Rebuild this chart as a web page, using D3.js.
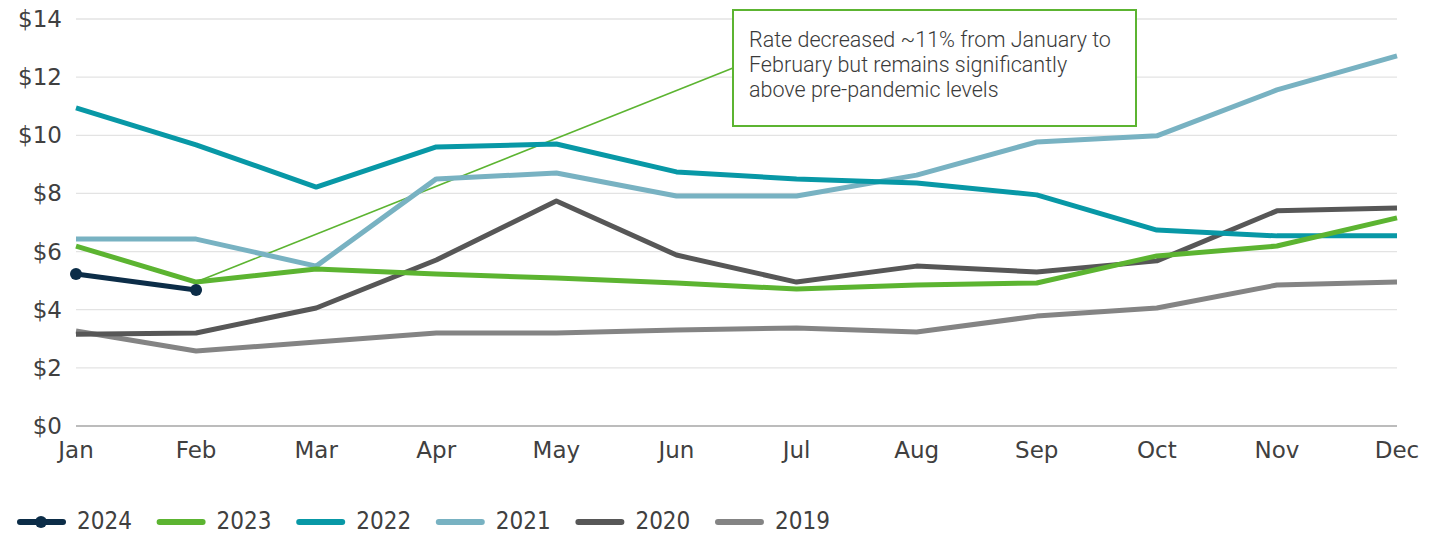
<!DOCTYPE html>
<html><head><meta charset="utf-8">
<script src="https://cdn.jsdelivr.net/npm/d3@7"></script>
<style>
body{margin:0;background:#fff;}
svg{display:block;}
</style></head>
<body><svg id="c" width="1438" height="535"></svg>
<script>
const months = ["Jan","Feb","Mar","Apr","May","Jun","Jul","Aug","Sep","Oct","Nov","Dec"];
const yTicks = [0,2,4,6,8,10,12,14];
const years = ["2024","2023","2022","2021","2020","2019"];
const colors = ["#0c2d48","#5cb431","#0898a6","#78b2c2","#575757","#848484"];
const v2024 = [5.23,4.68];
const v2023 = [6.19,4.95,5.40,5.23,5.09,4.92,4.71,4.85,4.92,5.85,6.19,7.16];
const v2022 = [10.94,9.67,8.22,9.60,9.70,8.74,8.50,8.36,7.95,6.74,6.54,6.54];
const v2021 = [6.43,6.43,5.50,8.50,8.70,7.91,7.91,8.63,9.77,9.98,11.56,12.73];
const v2020 = [3.16,3.20,4.06,5.71,7.74,5.88,4.95,5.50,5.30,5.68,7.40,7.50];
const v2019 = [3.27,2.58,2.89,3.20,3.20,3.30,3.37,3.23,3.78,4.06,4.85,4.95];
const annotationLines = ["Rate decreased ~11% from January to","February but remains significantly","above pre-pandemic levels"];

const seriesVals = [v2024,v2023,v2022,v2021,v2020,v2019];
const svg = d3.select("#c");
const x = d3.scalePoint().domain(months).range([76,1397]);
const y = d3.scaleLinear().domain([0,14]).range([426,19]);

// gridlines
svg.append("g").selectAll("line").data(yTicks.filter(d=>d>0)).join("line")
  .attr("x1",76).attr("x2",1397).attr("y1",d=>y(d)).attr("y2",d=>y(d))
  .attr("stroke","#e3e3e3").attr("stroke-width",1.3);
svg.append("line").attr("x1",76).attr("x2",1397).attr("y1",y(0)).attr("y2",y(0))
  .attr("stroke","#a6a6a6").attr("stroke-width",1.3);

// y labels
svg.append("g").selectAll("text").data(yTicks).join("text")
  .attr("x",62).attr("y",d=>y(d)+8).attr("text-anchor","end")
  .attr("font-family","DejaVu Sans, Verdana, sans-serif").attr("font-size",23)
  .attr("fill","#404040").text(d=>"$"+d);
// x labels
svg.append("g").selectAll("text").data(months).join("text")
  .attr("x",d=>x(d)).attr("y",458).attr("text-anchor","middle")
  .attr("font-family","DejaVu Sans, Verdana, sans-serif").attr("font-size",23)
  .attr("fill","#404040").text(d=>d);

// leader line
svg.append("line").attr("x1",x("Feb")).attr("y1",y(v2023[1])).attr("x2",733).attr("y2",68)
  .attr("stroke","#5cb431").attr("stroke-width",1.6);

const line = d3.line().x((d,i)=>x(months[i])).y(d=>y(d));
for(let k=seriesVals.length-1;k>=0;k--){
  svg.append("path").datum(seriesVals[k]).attr("d",line)
    .attr("fill","none").attr("stroke",colors[k]).attr("stroke-width",5)
    .attr("stroke-linejoin","round");
}
svg.append("g").selectAll("circle").data(v2024).join("circle")
  .attr("cx",(d,i)=>x(months[i])).attr("cy",d=>y(d)).attr("r",6).attr("fill",colors[0]);

// annotation box
svg.append("rect").attr("x",733).attr("y",10).attr("width",403).attr("height",116)
  .attr("fill","#fff").attr("stroke","#5cb431").attr("stroke-width",2);
svg.append("g").selectAll("text").data(annotationLines).join("text")
  .attr("x",749).attr("y",(d,i)=>47+i*25)
  .attr("font-family","Roboto, sans-serif").attr("font-weight",300).attr("font-size",21.5)
  .attr("fill","#3a3a3a").text(d=>d);

// legend
const lg = svg.append("g").selectAll("g").data(years).join("g")
  .attr("transform",(d,i)=>`translate(${20+i*139.6},522)`);
lg.append("line").attr("x1",0).attr("x2",43).attr("y1",0).attr("y2",0)
  .attr("stroke",(d,i)=>colors[i]).attr("stroke-width",6).attr("stroke-linecap","round");
lg.filter((d,i)=>i===0).append("circle").attr("cx",21).attr("cy",0).attr("r",6).attr("fill",colors[0]);
lg.append("text").attr("x",57).attr("y",7)
  .attr("font-family","DejaVu Sans Condensed, sans-serif").attr("font-size",24)
  .attr("fill","#404040").text(d=>d);
</script></body></html>
